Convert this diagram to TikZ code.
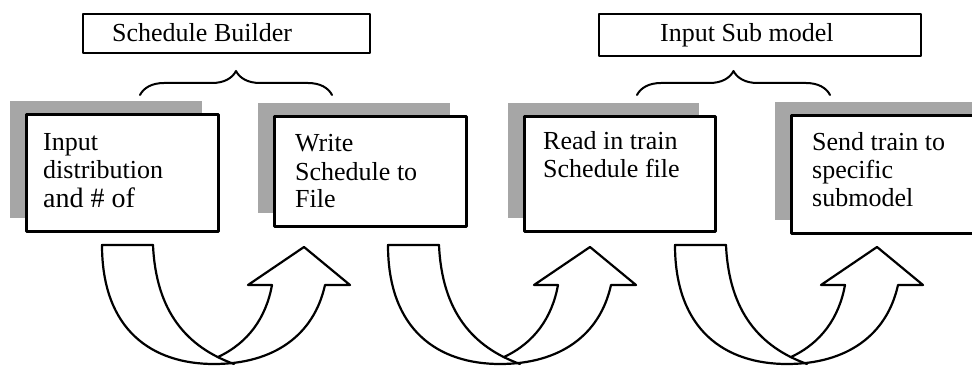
\documentclass[tikz,border=0pt]{standalone}
\usepackage{fontspec}
\setmainfont{Liberation Serif}
\usetikzlibrary{shadows,decorations.pathreplacing}

\newcommand{\uturn}[1]{%
  \begin{scope}[xshift=#1]
    \draw[uarrow] (51,245) -- (0,245) .. controls (0,330) and (50,364) .. (112,364)
      .. controls (172,364) and (212,335) .. (223,285) -- (248,285) -- (202,247)
      -- (146,285) -- (170,285) .. controls (164,318) and (146,343) .. (116,357);
    \draw[uarrow] (51,245) .. controls (54,312) and (85,347) .. (132,364);
  \end{scope}}

\begin{document}
\begin{tikzpicture}[x=1pt, y=-1pt, line join=round, line cap=round,
    txt/.style={font=\fontsize{26}{28}\selectfont, inner sep=0pt, align=left},
    titlebox/.style={draw, line width=2pt, anchor=north west, inner sep=0pt},
    stepbox/.style={draw, line width=2.6pt, fill=white, anchor=north west, inner sep=0pt,
      general shadow={fill=black!35, shadow xshift=-16pt, shadow yshift=13pt}},
    uarrow/.style={line width=2.2pt},
    brace/.style={decorate, line width=2pt, decoration={brace, amplitude=24pt}}]
  \clip (0,0) rectangle (972,366);

  % title boxes
  \node[titlebox, minimum width=287pt, minimum height=39pt] (sched) at (82,13) {};
  \node[txt, anchor=base west] (schedtxt) at (112,42) {Schedule Builder};
  \node[titlebox, minimum width=322pt, minimum height=42pt] (insub) at (598,13) {};
  \node[txt, anchor=base west] (insubtxt) at (660,42) {Input Sub model};

  % braces
  \coordinate (br1l) at (140,95); \coordinate (br1r) at (332,95);
  \coordinate (br2l) at (637,95); \coordinate (br2r) at (830,95);
  \draw[brace] (br1l) -- (br1r);
  \draw[brace] (br2l) -- (br2r);

  % step boxes
  \node[stepbox, minimum width=192pt, minimum height=117pt] (input) at (25,113) {};
  \node[stepbox, minimum width=192pt, minimum height=110pt] (write) at (273,115) {};
  \node[stepbox, minimum width=191pt, minimum height=115pt] (read) at (523,115) {};
  \node[stepbox, minimum width=200pt, minimum height=118pt] (send) at (790,114) {};

  % texts, placed at the baseline of their last line
  \node[txt, anchor=base west] (inputtxt) at (43,208)
    {Input\\distribution\\[1pt]{\fontsize{28}{30}\selectfont and \# of}};
  \node[txt, anchor=base west] (writetxt) at (295,208) {Write\\Schedule to\\File};
  \node[txt, anchor=base west] (readtxt) at (543,178) {Read in train\\Schedule file};
  \node[txt, anchor=base west] (sendtxt) at (812,207) {Send train to\\specific\\submodel};

  % curved arrows
  \uturn{102pt}
  \uturn{388pt}
  \uturn{675pt}
\end{tikzpicture}
\end{document}
